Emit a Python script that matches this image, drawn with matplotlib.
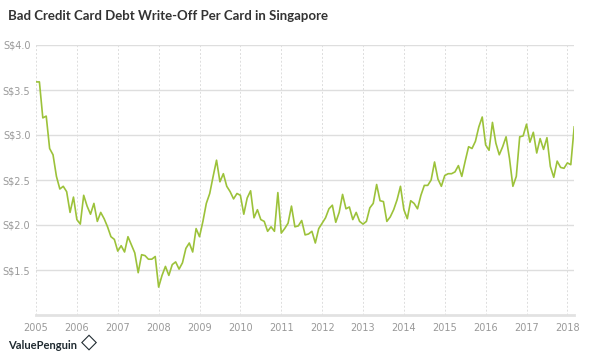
import matplotlib.pyplot as plt
import numpy as np

# Monthly write-off per card, Jan 2005 .. Mar 2018 (S$)
values = [
    3.59, 3.59, 3.19, 3.21, 2.85, 2.78, 2.54, 2.40, 2.43, 2.37, 2.14, 2.31,
    2.06, 2.01, 2.33, 2.21, 2.12, 2.24, 2.04, 2.14, 2.07, 1.98, 1.87, 1.84,
    1.71, 1.77, 1.70, 1.87, 1.78, 1.69, 1.47, 1.67, 1.66, 1.62, 1.62, 1.65,
    1.31, 1.44, 1.54, 1.44, 1.56, 1.59, 1.51, 1.58, 1.74, 1.80, 1.70, 1.96,
    1.87, 2.04, 2.24, 2.35, 2.54, 2.72, 2.48, 2.57, 2.43, 2.37, 2.29, 2.35,
    2.33, 2.12, 2.30, 2.38, 2.08, 2.17, 2.06, 2.04, 1.93, 1.98, 1.93, 2.36,
    1.91, 1.96, 2.02, 2.21, 1.98, 1.99, 2.05, 1.89, 1.90, 1.93, 1.80, 1.96,
    2.02, 2.08, 2.18, 2.22, 2.03, 2.14, 2.34, 2.18, 2.20, 2.06, 2.14, 2.04,
    2.01, 2.04, 2.19, 2.24, 2.45, 2.27, 2.26, 2.04, 2.09, 2.17, 2.28, 2.43,
    2.17, 2.07, 2.27, 2.24, 2.18, 2.33, 2.44, 2.44, 2.50, 2.70, 2.51, 2.43,
    2.55, 2.57, 2.57, 2.59, 2.66, 2.54, 2.71, 2.87, 2.85, 2.93, 3.09, 3.20,
    2.89, 2.83, 3.14, 2.91, 2.78, 2.87, 2.98, 2.74, 2.43, 2.54, 2.98, 2.99,
    3.12, 2.92, 3.03, 2.80, 2.96, 2.84, 2.97, 2.65, 2.53, 2.71, 2.64, 2.63,
    2.69, 2.67, 3.09,
]
years = list(range(2005, 2019))
y_ticks = [1.5, 2.0, 2.5, 3.0, 3.5, 4.0]
y_labels = ["S$" + format(v, ".1f") for v in y_ticks]

# x positions as fractional years
x = 2005 + np.arange(len(values)) / 12

fig = plt.figure(figsize=(6, 3.6), dpi=100)
ax = fig.add_axes([0.06, 0.125, 0.897, 0.75])

ax.plot(x, values, color="#9cc23a", linewidth=1.2, zorder=3)

ax.set_xlim(2005, x[-1])
ax.set_ylim(1.0, 4.0)

ax.set_yticks(y_ticks)
ax.set_yticklabels(y_labels)
ax.set_xticks(years)
ax.set_xticklabels([str(y) for y in years])

ax.tick_params(axis="both", length=0, labelsize=7, labelcolor="#999999")
ax.tick_params(axis="y", pad=4)
ax.tick_params(axis="x", pad=6)

ax.grid(axis="y", color="#dedede", linewidth=1, linestyle="-")
ax.grid(axis="x", color="#dddddd", linewidth=0.7, linestyle=(0, (2, 2)))
ax.set_axisbelow(True)

for side in ["left", "right", "top"]:
    ax.spines[side].set_visible(False)
ax.spines["bottom"].set_color("#e2e2e2")
ax.spines["bottom"].set_linewidth(2)

fig.text(0.013, 0.955, "Bad Credit Card Debt Write-Off Per Card in Singapore",
         fontsize=9.5, color="#333333", fontweight="bold",
         family="Lato", va="center", ha="left")

# footer brand
fig.text(0.013, 0.04, "ValuePenguin", fontsize=8, color="#1f2a30",
         fontweight="bold", family="Lato", va="center", ha="left")
fig.text(0.135, 0.05, "\u25c7", fontsize=15, color="#1f2a30",
         va="center", ha="left")

fig.savefig("out.png", dpi=100)
